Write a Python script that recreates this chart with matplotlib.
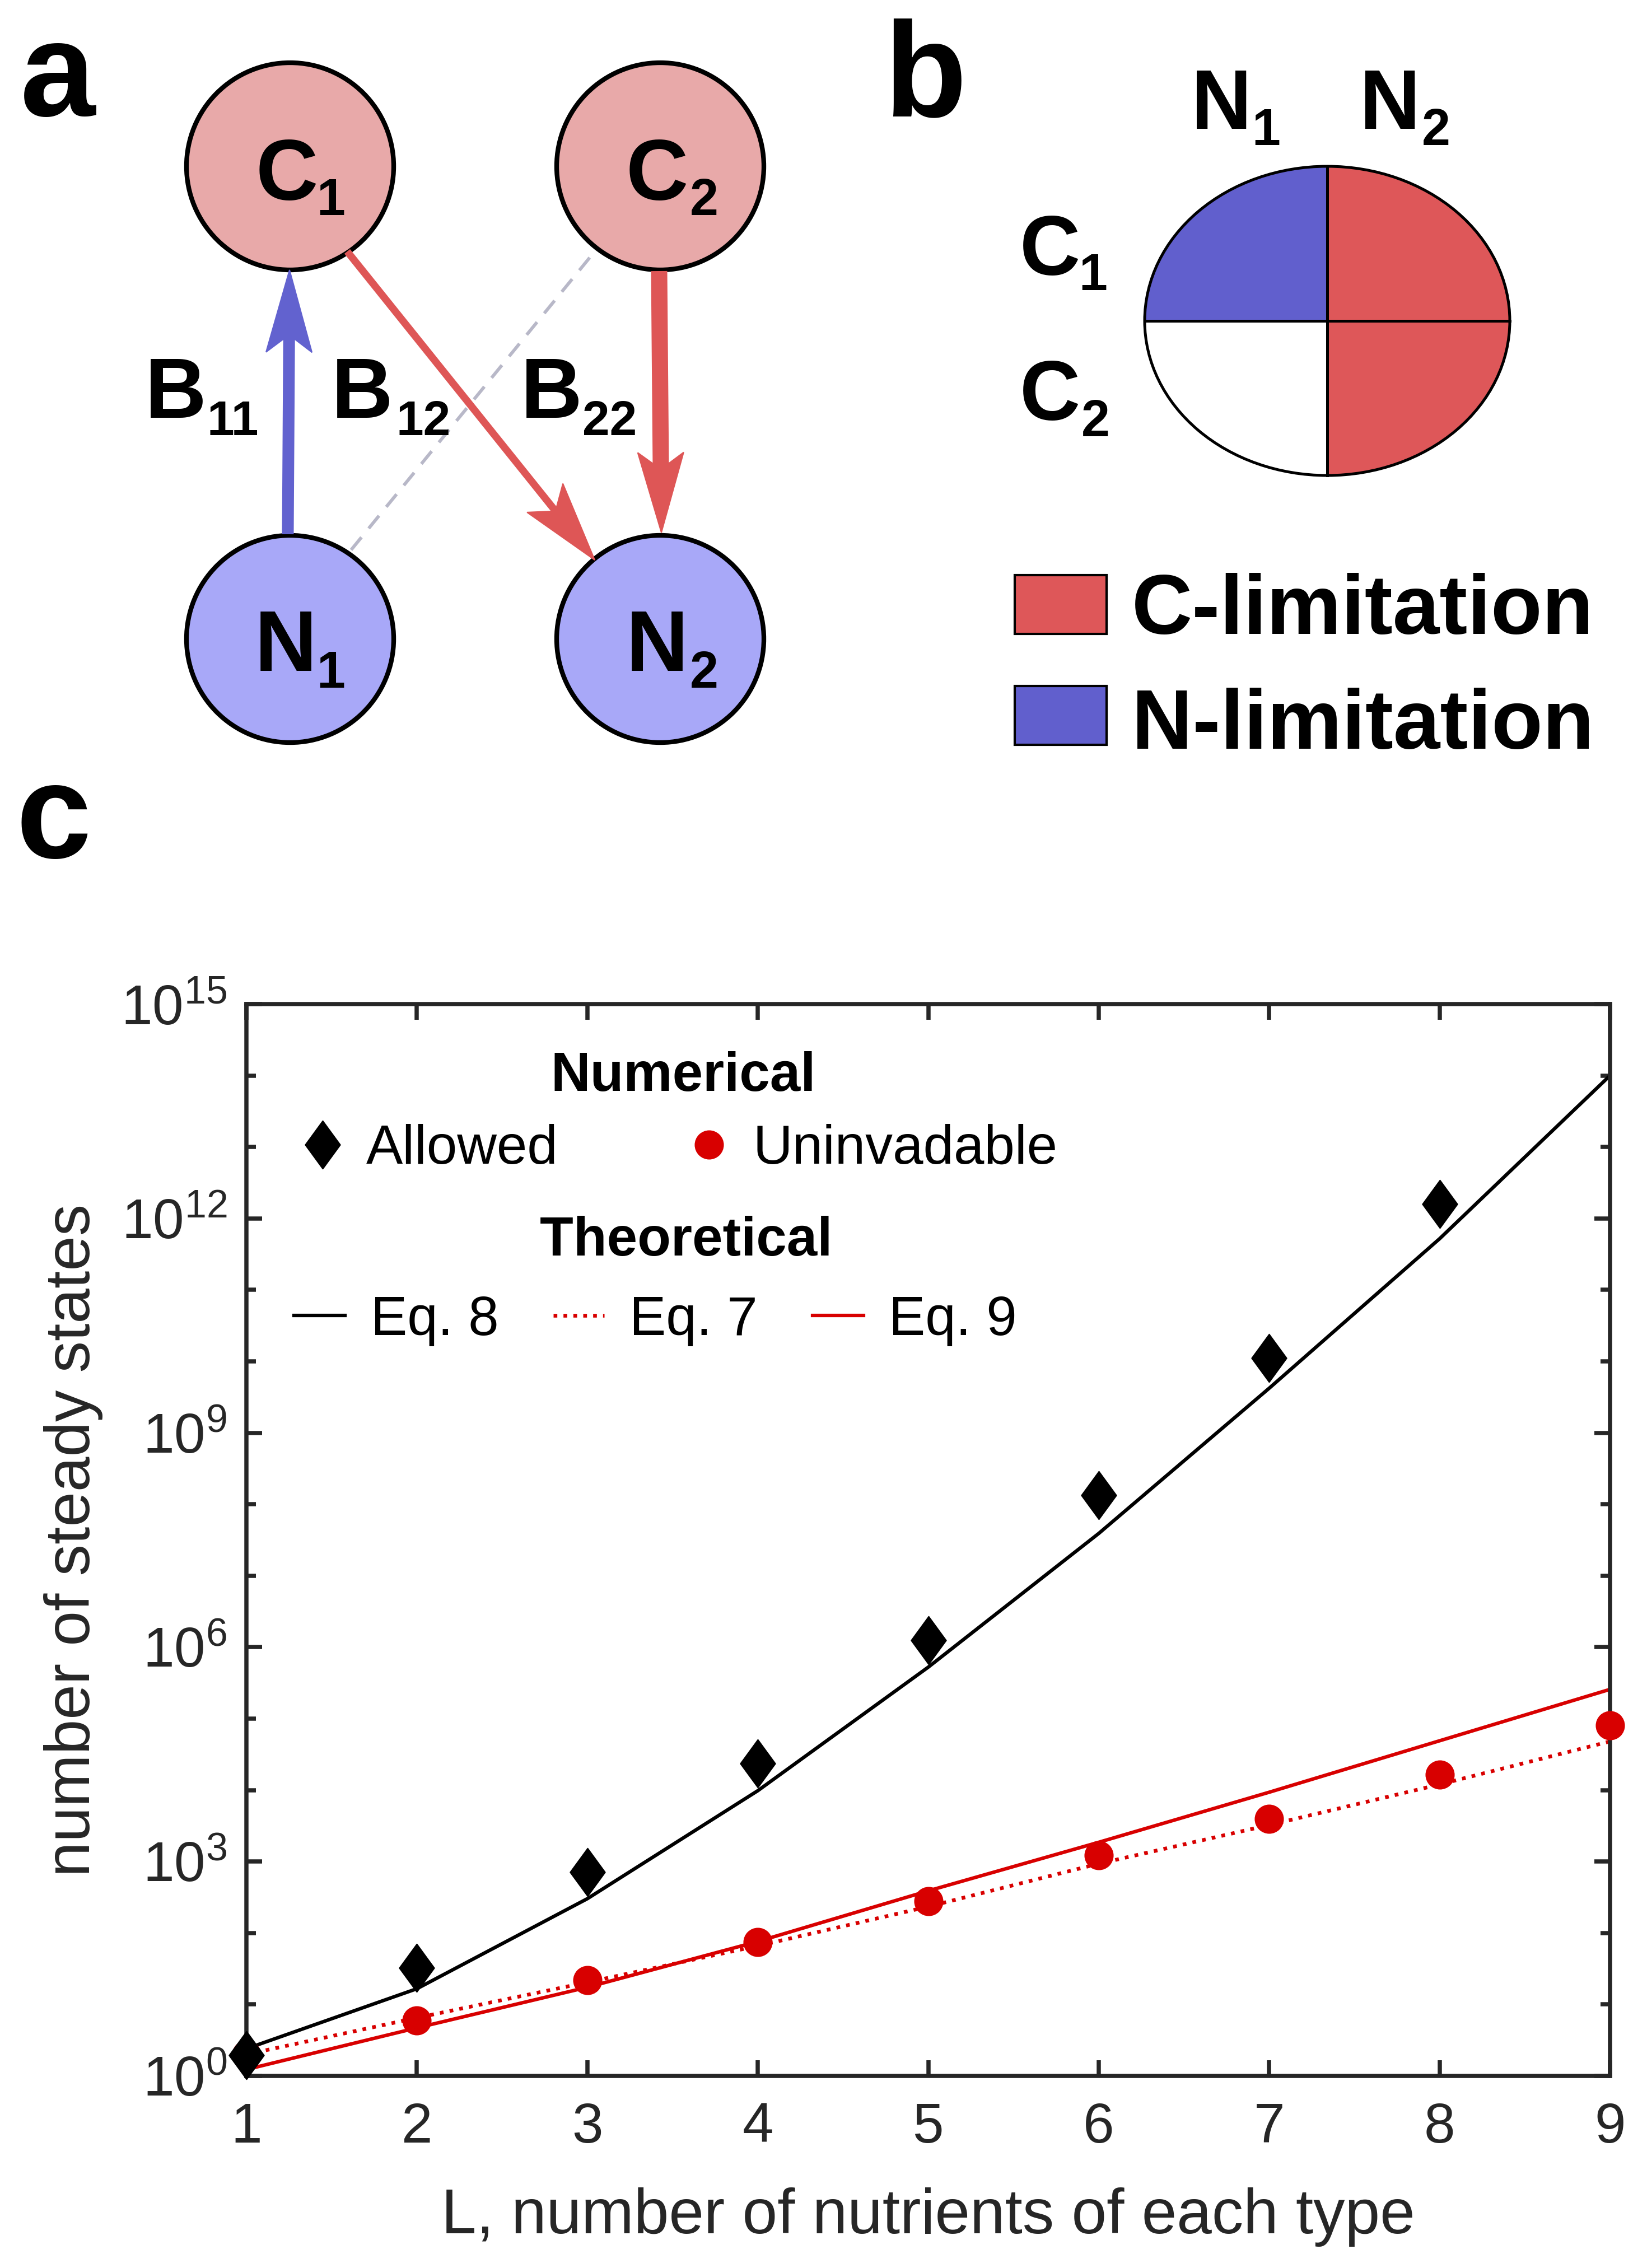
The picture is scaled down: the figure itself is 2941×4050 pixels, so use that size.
import numpy as np
import matplotlib
matplotlib.use('Agg')
import matplotlib.pyplot as plt
from matplotlib import patches
from matplotlib.path import Path
from matplotlib.lines import Line2D
from matplotlib.ticker import FixedLocator, FuncFormatter, NullFormatter, NullLocator

plt.rcParams['font.family'] = ['Liberation Sans', 'DejaVu Sans']
plt.rcParams['mathtext.fontset'] = 'custom'
plt.rcParams['mathtext.rm'] = 'Liberation Sans'
plt.rcParams['mathtext.it'] = 'Liberation Sans:italic'
plt.rcParams['mathtext.bf'] = 'Liberation Sans:bold'

# ---------------- data (panel c) ----------------
L_allowed = [1, 2, 3, 4, 5, 6, 7, 8]
allowed = [1.95, 32.4, 708, 2.34e4, 1.26e6, 1.35e8, 1.12e10, 1.58e12]
L_all = [1, 2, 3, 4, 5, 6, 7, 8, 9]
uninvadable = [2.0, 6.0, 22, 74, 280, 1230, 3980, 1.66e4, 8.1e4]
eq8 = [2.4, 16.6, 302, 9.8e3, 5.25e5, 3.9e7, 4.2e9, 5.2e11, 1.0e14]
eq7 = [2.0, 6.5, 20.4, 66, 234, 933, 3240, 1.2e4, 4.8e4]
eq9 = [1.23, 4.7, 17.4, 76, 389, 1860, 9330, 4.9e4, 2.57e5]
yticks_major = [1e0, 1e3, 1e6, 1e9, 1e12, 1e15]
yticks_minor = [1e1, 1e2, 1e4, 1e5, 1e7, 1e8, 1e10, 1e11, 1e13, 1e14]
legend_num = ['Allowed', 'Uninvadable']
legend_theo = ['Eq. 8', 'Eq. 7', 'Eq. 9']

RED = '#D80000'
GRAY = '#262626'
PINK = '#E8A9A9'
LBLUE = '#A8A8F8'
ABLUE = '#6262CF'
ARED = '#DE5656'
QBLUE = '#615FCD'
QRED = '#DE5759'

W, H = 2941, 4050
DPI = 300
PX = 72.0 / DPI  # points per pixel
fig = plt.figure(figsize=(W / DPI, H / DPI), dpi=DPI)

# ---------------- overlay axes in pixel coords for panels a and b ----------------
ov = fig.add_axes([0, 0, 1, 1])
ov.set_xlim(0, W)
ov.set_ylim(H, 0)
ov.axis('off')
ov.set_facecolor('none')


def label_sub(ax, main, sub, cx, by, scx, sby, size=37, ssize=22):
    ax.text(cx, by, main, ha='center', va='baseline', fontsize=size,
            fontweight='bold', color='k')
    ax.text(scx, sby, sub, ha='center', va='baseline', fontsize=ssize,
            fontweight='bold', color='k')


def arrow(ax, tail, tip, shaft_px, head_len, head_hw, notch, color):
    tail = np.array(tail, float)
    tip = np.array(tip, float)
    u = tip - tail
    u /= np.hypot(*u)
    n = np.array([-u[1], u[0]])
    base = tip - u * head_len
    npt = tip - u * (head_len - notch)
    ax.add_line(Line2D([tail[0], npt[0] + u[0] * 3], [tail[1], npt[1] + u[1] * 3],
                       lw=shaft_px * PX, color=color, solid_capstyle='butt', zorder=3))
    ax.add_patch(patches.Polygon([tip, base + n * head_hw, npt, base - n * head_hw],
                                 closed=True, fc=color, ec=color, lw=0.5, zorder=3))


# panel labels
ov.text(36, 207, 'a', fontsize=58, fontweight='bold', ha='left', va='baseline')
ov.text(1578, 207, 'b', fontsize=58, fontweight='bold', ha='left', va='baseline')
ov.text(28, 1532, 'c', fontsize=58, fontweight='bold', ha='left', va='baseline')

# panel a: dashed gray link
ov.add_line(Line2D([627, 1062], [982, 449], lw=1.4, color='#B8B8C8',
                   ls=(0, (5, 3.5)), zorder=1))
# circles
for (cx, cy, fc) in [(518, 297, PINK), (1179, 297, PINK), (518, 1141, LBLUE), (1179, 1141, LBLUE)]:
    ov.add_patch(patches.Circle((cx, cy), 185, fc=fc, ec='k', lw=2, zorder=2))
# arrows
arrow(ov, (514, 954), (517, 482), 21, 147, 41, 31, ABLUE)
arrow(ov, (620, 449), (1062, 1000), 13, 142, 41, 30, ARED)
arrow(ov, (1177, 484), (1181, 951), 29, 143, 41, 30, ARED)
# node labels
label_sub(ov, 'C', '1', 512, 357, 591, 384)
label_sub(ov, 'C', '2', 1173, 357, 1257, 384)
label_sub(ov, 'N', '1', 510, 1198, 591, 1228)
label_sub(ov, 'N', '2', 1173, 1198, 1257, 1228)
# B labels
label_sub(ov, 'B', '11', 314, 746, 416, 777, size=36.5, ssize=21)
label_sub(ov, 'B', '12', 647, 746, 756, 777, size=36.5, ssize=21)
label_sub(ov, 'B', '22', 985, 746, 1089, 777, size=36.5, ssize=21)

# panel b: ellipse quadrants
ecx, ecy, ea, eb = 2370, 573, 326, 276
ell = patches.Ellipse((ecx, ecy), 2 * ea, 2 * eb, fc='white', ec='none', zorder=2)
ov.add_patch(ell)
for (x0, y0, fc) in [(ecx - ea - 5, ecy - eb - 5, QBLUE), (ecx, ecy - eb - 5, QRED),
                     (ecx, ecy, QRED), (ecx - ea - 5, ecy, 'white')]:
    r = patches.Rectangle((x0, y0), ea + 5, eb + 5, fc=fc, ec='none', zorder=3)
    ov.add_patch(r)
    r.set_clip_path(ell)
ov.add_patch(patches.Ellipse((ecx, ecy), 2 * ea, 2 * eb, fc='none', ec='k', lw=1.2, zorder=5))
ov.add_line(Line2D([ecx, ecx], [ecy - eb, ecy + eb], lw=1.2, color='k', zorder=5))
ov.add_line(Line2D([ecx - ea, ecx + ea], [ecy, ecy], lw=1.2, color='k', zorder=5))
label_sub(ov, 'N', '1', 2181, 230, 2261, 259, size=36, ssize=22)
label_sub(ov, 'N', '2', 2482, 230, 2564, 259, size=36, ssize=22)
label_sub(ov, 'C', '1', 1875, 491, 1952, 518, size=36, ssize=22)
label_sub(ov, 'C', '2', 1875, 750, 1956, 779, size=36, ssize=22)
# legend of panel b
ov.add_patch(patches.Rectangle((1812, 1027), 164, 105, fc=QRED, ec='k', lw=1.0, zorder=3))
ov.add_patch(patches.Rectangle((1812, 1225), 164, 105, fc=QBLUE, ec='k', lw=1.0, zorder=3))
ov.text(2021, 1132, 'C-limitation', fontsize=36, fontweight='bold', ha='left', va='baseline')
ov.text(2021, 1337, 'N-limitation', fontsize=36, fontweight='bold', ha='left', va='baseline')

# ---------------- panel c ----------------
ax = fig.add_axes([440 / W, 1 - 3707 / H, (2875 - 440) / W, (3707 - 1793) / H])
ax.set_yscale('log')

diamond = Path([(0, 1), (0.73, 0), (0, -1), (-0.73, 0), (0, 1)],
               [Path.MOVETO, Path.LINETO, Path.LINETO, Path.LINETO, Path.CLOSEPOLY])

l8, = ax.plot(L_all, eq8, color='k', lw=1.5, zorder=2)
l7, = ax.plot(L_all, eq7, color=RED, lw=1.6, ls=':', zorder=2)
l9, = ax.plot(L_all, eq9, color=RED, lw=1.5, zorder=2)
hU, = ax.plot(L_all, uninvadable, ls='none', marker='o', ms=12, color=RED,
              mew=0.5, clip_on=False, zorder=4)
hA, = ax.plot(L_allowed, allowed, ls='none', marker=diamond, ms=20.5, color='k',
              mew=0.5, clip_on=False, zorder=5)

ax.set_xlim(1, 9)
ax.set_ylim(1, 1e15)
ax.set_xticks(L_all)
ax.xaxis.set_minor_locator(NullLocator())
ax.yaxis.set_major_locator(FixedLocator(yticks_major))
ax.yaxis.set_minor_locator(FixedLocator(yticks_minor))
ax.yaxis.set_major_formatter(FuncFormatter(lambda v, p: r'$10^{%d}$' % int(round(np.log10(v)))))
ax.yaxis.set_minor_formatter(NullFormatter())
ax.tick_params(which='both', direction='in', top=True, right=True, color=GRAY,
               width=1.8, labelcolor=GRAY)
ax.tick_params(which='major', length=6.7, labelsize=24)
ax.tick_params(which='minor', length=4)
ax.tick_params(axis='x', pad=11)
ax.tick_params(axis='y', pad=8.4)
for s in ax.spines.values():
    s.set_linewidth(1.8)
    s.set_color(GRAY)

ax.set_xlabel('L, number of nutrients of each type', fontsize=27, color=GRAY)
ax.set_ylabel('number of steady states', fontsize=27, color=GRAY)
ax.xaxis.set_label_coords(0.5, -0.104)
ax.yaxis.set_label_coords(-0.105, 0.5)

leg1 = ax.legend([hA, hU], legend_num, ncol=2, title='Numerical',
                 title_fontproperties={'weight': 'bold', 'size': 23.5}, fontsize=23.5,
                 frameon=False, loc='center', bbox_to_anchor=(0.3203, 0.8984),
                 handlelength=0.5, handletextpad=0.55, columnspacing=2.5,
                 borderpad=0, labelspacing=0.40, borderaxespad=0)
ax.add_artist(leg1)
leg2 = ax.legend([l8, l7, l9], legend_theo, ncol=3, title='    Theoretical',
                 title_fontproperties={'weight': 'bold', 'size': 23.5}, fontsize=23.5,
                 frameon=False, loc='center', bbox_to_anchor=(0.300, 0.7418),
                 handlelength=0.93, handletextpad=0.46, columnspacing=1.0,
                 borderpad=0, labelspacing=0.52, borderaxespad=0)

fig.savefig('out.png', dpi=DPI)
